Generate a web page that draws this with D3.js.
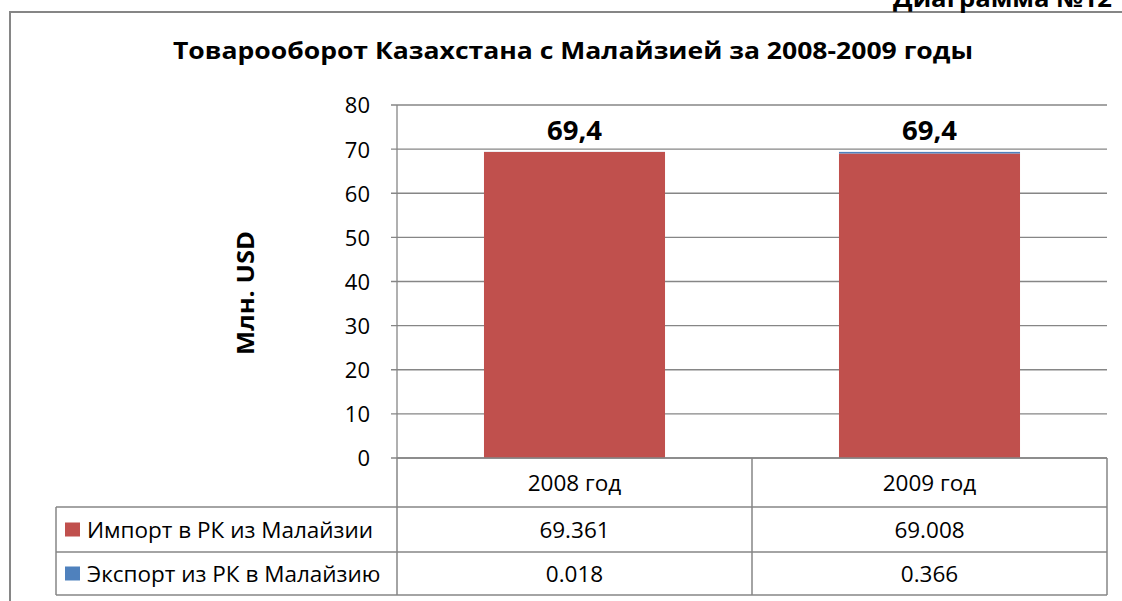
<!DOCTYPE html>
<html><head><meta charset="utf-8">
<script src="https://cdn.jsdelivr.net/npm/d3@7"></script>
<style>html,body{margin:0;padding:0;background:#fff;overflow:hidden}</style>
</head><body>
<svg id="c" width="1122" height="601"></svg>
<script>
const categories = ["2008 год", "2009 год"];
const seriesNames = ["Импорт в РК из Малайзии", "Экспорт из РК в Малайзию"];
const importValues = [69.361, 69.008];
const exportValues = [0.018, 0.366];
const importLabels = ["69.361", "69.008"];
const exportLabels = ["0.018", "0.366"];
const totalLabels = ["69,4", "69,4"];
const yTicks = [0, 10, 20, 30, 40, 50, 60, 70, 80];
const colors = ["#C0504D", "#4F81BD"];
const titleText = "Товарооборот Казахстана с Малайзией за 2008-2009 годы";
const yTitle = "Млн. USD";
const topNote = "Диаграмма №12";

const svg = d3.select("#c");
const font = "'Open Sans', Lato, sans-serif";
const grid = "#868686";

// outer frame
svg.append("rect").attr("x", 10).attr("y", 12).attr("width", 1140).attr("height", 620)
  .attr("fill", "#fff").attr("stroke", grid).attr("stroke-width", 2);

svg.append("text").attr("x", 1112).attr("y", 7).attr("text-anchor", "end")
  .attr("font-family", font).attr("font-weight", "bold").attr("font-size", 24)
  .attr("textLength", 219).attr("lengthAdjust", "spacingAndGlyphs").text(topNote);

svg.append("text").attr("x", 573).attr("y", 59).attr("text-anchor", "middle")
  .attr("font-family", font).attr("font-weight", "bold").attr("font-size", 23.5)
  .attr("textLength", 800).attr("lengthAdjust", "spacingAndGlyphs").text(titleText);

const x0 = 397, x1 = 1107, yTop = 105, yBot = 458;
const x = d3.scaleBand().domain(categories).range([x0, x1]).paddingInner(0.49).paddingOuter(0.245);
const xc = d3.scaleBand().domain(categories).range([x0, x1]);
const y = d3.scaleLinear().domain([0, 80]).range([yBot, yTop]);

// gridlines
svg.append("g").selectAll("line").data(yTicks).join("line")
  .attr("x1", x0 - 6).attr("x2", x1).attr("y1", d => y(d)).attr("y2", d => y(d))
  .attr("stroke", grid).attr("stroke-width", 1.3);
svg.append("line").attr("x1", x0).attr("x2", x0).attr("y1", yTop).attr("y2", yBot)
  .attr("stroke", grid).attr("stroke-width", 1.3);

// y axis labels
const yAxis = d3.axisLeft(y).tickValues(yTicks).tickSize(0).tickPadding(0).tickFormat(d3.format("d"));
const ga = svg.append("g").attr("transform", `translate(${x0 - 27},0)`).call(yAxis);
ga.select(".domain").remove();
ga.selectAll("text").attr("font-family", font).attr("font-size", 22).attr("fill", "#000").attr("dy", "0.36em");

svg.append("text").attr("transform", `translate(254,293) rotate(-90)`).attr("text-anchor", "middle")
  .attr("font-family", font).attr("font-weight", "bold").attr("font-size", 23)
  .attr("textLength", 124).attr("lengthAdjust", "spacingAndGlyphs").text(yTitle);

// stacked bars
const rows = categories.map((c, i) => ({cat: c, imp: importValues[i], exp: exportValues[i]}));
const stack = d3.stack().keys(["imp", "exp"])(rows);
svg.append("g").selectAll("g").data(stack).join("g").attr("fill", (d, i) => colors[i])
  .selectAll("rect").data(d => d).join("rect")
  .attr("x", d => x(d.data.cat)).attr("width", x.bandwidth())
  .attr("y", d => y(d[1])).attr("height", d => y(d[0]) - y(d[1]));

svg.append("g").selectAll("text").data(rows).join("text")
  .attr("x", d => x(d.cat) + x.bandwidth() / 2).attr("y", d => y(d.imp + d.exp) - 12)
  .attr("text-anchor", "middle").attr("font-family", font).attr("font-weight", "bold").attr("font-size", 27.5)
  .text((d, i) => totalLabels[i]);

// data table
const rowY = [yBot, 507, 552, 595];
const tLeft = 56;
const tg = svg.append("g").attr("stroke", grid).attr("stroke-width", 1.5);
categories.forEach(c => {
  tg.append("line").attr("x1", xc(c)).attr("x2", xc(c)).attr("y1", rowY[0]).attr("y2", rowY[3]);
});
tg.append("line").attr("x1", x1).attr("x2", x1).attr("y1", rowY[0]).attr("y2", rowY[3]);
tg.append("line").attr("x1", tLeft).attr("x2", tLeft).attr("y1", rowY[1]).attr("y2", rowY[3]);
tg.append("line").attr("x1", x0).attr("x2", x1).attr("y1", rowY[0]).attr("y2", rowY[0]);
[1, 2, 3].forEach(r => tg.append("line").attr("x1", tLeft).attr("x2", x1).attr("y1", rowY[r]).attr("y2", rowY[r]));

const cellText = (cx, cy, t) => svg.append("text").attr("x", cx).attr("y", cy).attr("dy", "0.36em")
  .attr("text-anchor", "middle").attr("font-family", font).attr("font-size", 22.5).attr("fill", "#000").text(t);
categories.forEach((c, i) => {
  const cx = xc(c) + xc.bandwidth() / 2;
  cellText(cx, (rowY[0] + rowY[1]) / 2, c);
  cellText(cx, (rowY[1] + rowY[2]) / 2, importLabels[i]);
  cellText(cx, (rowY[2] + rowY[3]) / 2, exportLabels[i]);
});
seriesNames.forEach((s, i) => {
  const cy = (rowY[i + 1] + rowY[i + 2]) / 2;
  svg.append("rect").attr("x", 65).attr("y", cy - 7).attr("width", 15).attr("height", 14).attr("fill", colors[i]);
  svg.append("text").attr("x", 87).attr("y", cy).attr("dy", "0.36em").attr("font-family", font)
    .attr("font-size", 22.5).attr("fill", "#000").text(s);
});
</script>
</body></html>
